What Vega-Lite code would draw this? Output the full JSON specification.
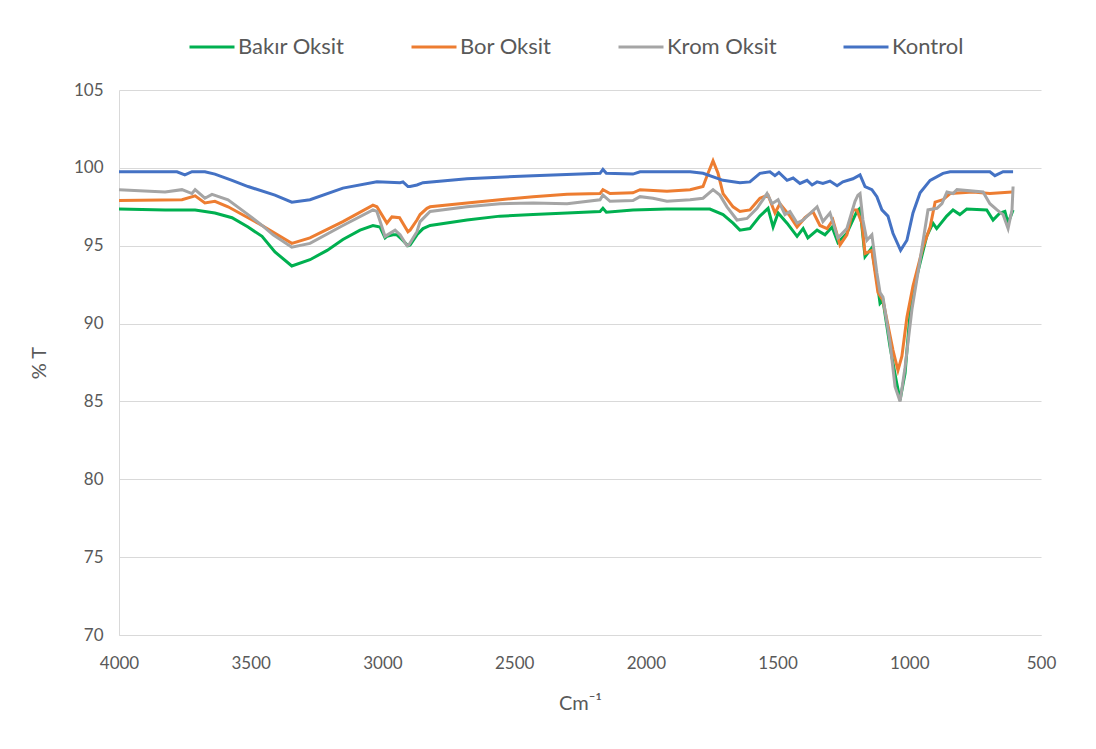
{
  "$schema": "https://vega.github.io/schema/vega-lite/v6.json",
  "width": 922,
  "height": 545,
  "autosize": {"type": "none"},
  "padding": {"left": 119, "top": 90, "right": 55, "bottom": 114},
  "background": "#ffffff",
  "datasets": {
    "spectra": [
      {"series": "Bakır Oksit", "wavenumber": 4000, "T": 97.35},
      {"series": "Bakır Oksit", "wavenumber": 3825, "T": 97.3},
      {"series": "Bakır Oksit", "wavenumber": 3711, "T": 97.3},
      {"series": "Bakır Oksit", "wavenumber": 3636, "T": 97.1},
      {"series": "Bakır Oksit", "wavenumber": 3571, "T": 96.8},
      {"series": "Bakır Oksit", "wavenumber": 3510, "T": 96.2},
      {"series": "Bakır Oksit", "wavenumber": 3457, "T": 95.6},
      {"series": "Bakır Oksit", "wavenumber": 3408, "T": 94.6},
      {"series": "Bakır Oksit", "wavenumber": 3344, "T": 93.7},
      {"series": "Bakır Oksit", "wavenumber": 3275, "T": 94.1},
      {"series": "Bakır Oksit", "wavenumber": 3210, "T": 94.7},
      {"series": "Bakır Oksit", "wavenumber": 3150, "T": 95.4},
      {"series": "Bakır Oksit", "wavenumber": 3085, "T": 96.0},
      {"series": "Bakır Oksit", "wavenumber": 3036, "T": 96.3},
      {"series": "Bakır Oksit", "wavenumber": 3009, "T": 96.2},
      {"series": "Bakır Oksit", "wavenumber": 2990, "T": 95.5},
      {"series": "Bakır Oksit", "wavenumber": 2983, "T": 95.6},
      {"series": "Bakır Oksit", "wavenumber": 2960, "T": 95.7},
      {"series": "Bakır Oksit", "wavenumber": 2945, "T": 95.7},
      {"series": "Bakır Oksit", "wavenumber": 2926, "T": 95.4},
      {"series": "Bakır Oksit", "wavenumber": 2903, "T": 95.0},
      {"series": "Bakır Oksit", "wavenumber": 2895, "T": 95.05},
      {"series": "Bakır Oksit", "wavenumber": 2869, "T": 95.7},
      {"series": "Bakır Oksit", "wavenumber": 2846, "T": 96.1},
      {"series": "Bakır Oksit", "wavenumber": 2819, "T": 96.3},
      {"series": "Bakır Oksit", "wavenumber": 2679, "T": 96.65},
      {"series": "Bakır Oksit", "wavenumber": 2554, "T": 96.9},
      {"series": "Bakır Oksit", "wavenumber": 2428, "T": 97.0},
      {"series": "Bakır Oksit", "wavenumber": 2299, "T": 97.1},
      {"series": "Bakır Oksit", "wavenumber": 2174, "T": 97.2},
      {"series": "Bakır Oksit", "wavenumber": 2163, "T": 97.4},
      {"series": "Bakır Oksit", "wavenumber": 2150, "T": 97.15},
      {"series": "Bakır Oksit", "wavenumber": 2049, "T": 97.3},
      {"series": "Bakır Oksit", "wavenumber": 1920, "T": 97.35},
      {"series": "Bakır Oksit", "wavenumber": 1832, "T": 97.35},
      {"series": "Bakır Oksit", "wavenumber": 1757, "T": 97.35},
      {"series": "Bakır Oksit", "wavenumber": 1707, "T": 97.0},
      {"series": "Bakır Oksit", "wavenumber": 1669, "T": 96.45},
      {"series": "Bakır Oksit", "wavenumber": 1643, "T": 96.0},
      {"series": "Bakır Oksit", "wavenumber": 1605, "T": 96.1},
      {"series": "Bakır Oksit", "wavenumber": 1567, "T": 96.9},
      {"series": "Bakır Oksit", "wavenumber": 1536, "T": 97.4},
      {"series": "Bakır Oksit", "wavenumber": 1517, "T": 96.2},
      {"series": "Bakır Oksit", "wavenumber": 1498, "T": 97.1},
      {"series": "Bakır Oksit", "wavenumber": 1464, "T": 96.45},
      {"series": "Bakır Oksit", "wavenumber": 1426, "T": 95.6},
      {"series": "Bakır Oksit", "wavenumber": 1403, "T": 96.1},
      {"series": "Bakır Oksit", "wavenumber": 1385, "T": 95.5},
      {"series": "Bakır Oksit", "wavenumber": 1350, "T": 96.0},
      {"series": "Bakır Oksit", "wavenumber": 1320, "T": 95.7},
      {"series": "Bakır Oksit", "wavenumber": 1293, "T": 96.2},
      {"series": "Bakır Oksit", "wavenumber": 1271, "T": 95.2},
      {"series": "Bakır Oksit", "wavenumber": 1237, "T": 95.8},
      {"series": "Bakır Oksit", "wavenumber": 1199, "T": 97.2},
      {"series": "Bakır Oksit", "wavenumber": 1187, "T": 97.4},
      {"series": "Bakır Oksit", "wavenumber": 1168, "T": 94.3},
      {"series": "Bakır Oksit", "wavenumber": 1143, "T": 94.85},
      {"series": "Bakır Oksit", "wavenumber": 1123, "T": 92.8},
      {"series": "Bakır Oksit", "wavenumber": 1111, "T": 91.3},
      {"series": "Bakır Oksit", "wavenumber": 1100, "T": 91.5},
      {"series": "Bakır Oksit", "wavenumber": 1073, "T": 88.5},
      {"series": "Bakır Oksit", "wavenumber": 1048, "T": 86.2},
      {"series": "Bakır Oksit", "wavenumber": 1035, "T": 85.1},
      {"series": "Bakır Oksit", "wavenumber": 1016, "T": 86.8},
      {"series": "Bakır Oksit", "wavenumber": 997, "T": 90.7},
      {"series": "Bakır Oksit", "wavenumber": 972, "T": 93.0},
      {"series": "Bakır Oksit", "wavenumber": 934, "T": 95.6},
      {"series": "Bakır Oksit", "wavenumber": 910, "T": 96.45},
      {"series": "Bakır Oksit", "wavenumber": 896, "T": 96.1},
      {"series": "Bakır Oksit", "wavenumber": 858, "T": 96.9},
      {"series": "Bakır Oksit", "wavenumber": 834, "T": 97.3},
      {"series": "Bakır Oksit", "wavenumber": 808, "T": 97.0},
      {"series": "Bakır Oksit", "wavenumber": 782, "T": 97.35},
      {"series": "Bakır Oksit", "wavenumber": 706, "T": 97.3},
      {"series": "Bakır Oksit", "wavenumber": 682, "T": 96.65},
      {"series": "Bakır Oksit", "wavenumber": 656, "T": 97.1},
      {"series": "Bakır Oksit", "wavenumber": 637, "T": 97.2},
      {"series": "Bakır Oksit", "wavenumber": 625, "T": 96.45},
      {"series": "Bakır Oksit", "wavenumber": 606, "T": 97.3},

      {"series": "Bor Oksit", "wavenumber": 4000, "T": 97.9},
      {"series": "Bor Oksit", "wavenumber": 3761, "T": 97.95},
      {"series": "Bor Oksit", "wavenumber": 3711, "T": 98.2},
      {"series": "Bor Oksit", "wavenumber": 3674, "T": 97.75},
      {"series": "Bor Oksit", "wavenumber": 3636, "T": 97.85},
      {"series": "Bor Oksit", "wavenumber": 3586, "T": 97.5},
      {"series": "Bor Oksit", "wavenumber": 3510, "T": 96.8},
      {"series": "Bor Oksit", "wavenumber": 3457, "T": 96.3},
      {"series": "Bor Oksit", "wavenumber": 3344, "T": 95.15},
      {"series": "Bor Oksit", "wavenumber": 3275, "T": 95.5},
      {"series": "Bor Oksit", "wavenumber": 3150, "T": 96.55},
      {"series": "Bor Oksit", "wavenumber": 3036, "T": 97.6},
      {"series": "Bor Oksit", "wavenumber": 3021, "T": 97.5},
      {"series": "Bor Oksit", "wavenumber": 2983, "T": 96.45},
      {"series": "Bor Oksit", "wavenumber": 2964, "T": 96.85},
      {"series": "Bor Oksit", "wavenumber": 2935, "T": 96.8},
      {"series": "Bor Oksit", "wavenumber": 2903, "T": 95.9},
      {"series": "Bor Oksit", "wavenumber": 2895, "T": 96.0},
      {"series": "Bor Oksit", "wavenumber": 2869, "T": 96.65},
      {"series": "Bor Oksit", "wavenumber": 2857, "T": 97.0},
      {"series": "Bor Oksit", "wavenumber": 2831, "T": 97.4},
      {"series": "Bor Oksit", "wavenumber": 2819, "T": 97.5},
      {"series": "Bor Oksit", "wavenumber": 2679, "T": 97.75},
      {"series": "Bor Oksit", "wavenumber": 2554, "T": 97.95},
      {"series": "Bor Oksit", "wavenumber": 2428, "T": 98.15},
      {"series": "Bor Oksit", "wavenumber": 2299, "T": 98.3},
      {"series": "Bor Oksit", "wavenumber": 2174, "T": 98.35},
      {"series": "Bor Oksit", "wavenumber": 2163, "T": 98.6},
      {"series": "Bor Oksit", "wavenumber": 2136, "T": 98.35},
      {"series": "Bor Oksit", "wavenumber": 2049, "T": 98.4},
      {"series": "Bor Oksit", "wavenumber": 2022, "T": 98.6},
      {"series": "Bor Oksit", "wavenumber": 1920, "T": 98.5},
      {"series": "Bor Oksit", "wavenumber": 1832, "T": 98.6},
      {"series": "Bor Oksit", "wavenumber": 1783, "T": 98.8},
      {"series": "Bor Oksit", "wavenumber": 1764, "T": 99.65},
      {"series": "Bor Oksit", "wavenumber": 1745, "T": 100.45},
      {"series": "Bor Oksit", "wavenumber": 1726, "T": 99.65},
      {"series": "Bor Oksit", "wavenumber": 1707, "T": 98.35},
      {"series": "Bor Oksit", "wavenumber": 1669, "T": 97.5},
      {"series": "Bor Oksit", "wavenumber": 1643, "T": 97.2},
      {"series": "Bor Oksit", "wavenumber": 1605, "T": 97.3},
      {"series": "Bor Oksit", "wavenumber": 1567, "T": 98.05},
      {"series": "Bor Oksit", "wavenumber": 1536, "T": 98.25},
      {"series": "Bor Oksit", "wavenumber": 1510, "T": 97.1},
      {"series": "Bor Oksit", "wavenumber": 1491, "T": 97.7},
      {"series": "Bor Oksit", "wavenumber": 1453, "T": 96.9},
      {"series": "Bor Oksit", "wavenumber": 1426, "T": 96.2},
      {"series": "Bor Oksit", "wavenumber": 1396, "T": 96.8},
      {"series": "Bor Oksit", "wavenumber": 1366, "T": 97.2},
      {"series": "Bor Oksit", "wavenumber": 1339, "T": 96.3},
      {"series": "Bor Oksit", "wavenumber": 1312, "T": 96.1},
      {"series": "Bor Oksit", "wavenumber": 1290, "T": 96.65},
      {"series": "Bor Oksit", "wavenumber": 1263, "T": 95.05},
      {"series": "Bor Oksit", "wavenumber": 1237, "T": 95.7},
      {"series": "Bor Oksit", "wavenumber": 1214, "T": 97.3},
      {"series": "Bor Oksit", "wavenumber": 1199, "T": 97.3},
      {"series": "Bor Oksit", "wavenumber": 1180, "T": 96.45},
      {"series": "Bor Oksit", "wavenumber": 1168, "T": 94.5},
      {"series": "Bor Oksit", "wavenumber": 1142, "T": 94.7},
      {"series": "Bor Oksit", "wavenumber": 1119, "T": 92.0},
      {"series": "Bor Oksit", "wavenumber": 1100, "T": 91.5},
      {"series": "Bor Oksit", "wavenumber": 1062, "T": 88.3},
      {"series": "Bor Oksit", "wavenumber": 1043, "T": 87.0},
      {"series": "Bor Oksit", "wavenumber": 1028, "T": 87.9},
      {"series": "Bor Oksit", "wavenumber": 1009, "T": 90.4},
      {"series": "Bor Oksit", "wavenumber": 986, "T": 92.4},
      {"series": "Bor Oksit", "wavenumber": 948, "T": 94.9},
      {"series": "Bor Oksit", "wavenumber": 921, "T": 96.2},
      {"series": "Bor Oksit", "wavenumber": 902, "T": 97.8},
      {"series": "Bor Oksit", "wavenumber": 872, "T": 97.95},
      {"series": "Bor Oksit", "wavenumber": 845, "T": 98.35},
      {"series": "Bor Oksit", "wavenumber": 758, "T": 98.45},
      {"series": "Bor Oksit", "wavenumber": 694, "T": 98.35},
      {"series": "Bor Oksit", "wavenumber": 610, "T": 98.45},

      {"series": "Krom Oksit", "wavenumber": 4000, "T": 98.6},
      {"series": "Krom Oksit", "wavenumber": 3825, "T": 98.45},
      {"series": "Krom Oksit", "wavenumber": 3761, "T": 98.6},
      {"series": "Krom Oksit", "wavenumber": 3723, "T": 98.35},
      {"series": "Krom Oksit", "wavenumber": 3711, "T": 98.6},
      {"series": "Krom Oksit", "wavenumber": 3674, "T": 98.05},
      {"series": "Krom Oksit", "wavenumber": 3647, "T": 98.3},
      {"series": "Krom Oksit", "wavenumber": 3586, "T": 97.95},
      {"series": "Krom Oksit", "wavenumber": 3510, "T": 97.0},
      {"series": "Krom Oksit", "wavenumber": 3457, "T": 96.3},
      {"series": "Krom Oksit", "wavenumber": 3415, "T": 95.7},
      {"series": "Krom Oksit", "wavenumber": 3344, "T": 94.9},
      {"series": "Krom Oksit", "wavenumber": 3275, "T": 95.15},
      {"series": "Krom Oksit", "wavenumber": 3150, "T": 96.3},
      {"series": "Krom Oksit", "wavenumber": 3036, "T": 97.3},
      {"series": "Krom Oksit", "wavenumber": 3021, "T": 97.2},
      {"series": "Krom Oksit", "wavenumber": 2990, "T": 95.6},
      {"series": "Krom Oksit", "wavenumber": 2952, "T": 96.0},
      {"series": "Krom Oksit", "wavenumber": 2933, "T": 95.7},
      {"series": "Krom Oksit", "wavenumber": 2907, "T": 95.0},
      {"series": "Krom Oksit", "wavenumber": 2900, "T": 95.05},
      {"series": "Krom Oksit", "wavenumber": 2869, "T": 95.9},
      {"series": "Krom Oksit", "wavenumber": 2857, "T": 96.55},
      {"series": "Krom Oksit", "wavenumber": 2831, "T": 97.0},
      {"series": "Krom Oksit", "wavenumber": 2819, "T": 97.2},
      {"series": "Krom Oksit", "wavenumber": 2679, "T": 97.5},
      {"series": "Krom Oksit", "wavenumber": 2554, "T": 97.7},
      {"series": "Krom Oksit", "wavenumber": 2428, "T": 97.75},
      {"series": "Krom Oksit", "wavenumber": 2299, "T": 97.7},
      {"series": "Krom Oksit", "wavenumber": 2174, "T": 97.95},
      {"series": "Krom Oksit", "wavenumber": 2163, "T": 98.25},
      {"series": "Krom Oksit", "wavenumber": 2136, "T": 97.85},
      {"series": "Krom Oksit", "wavenumber": 2049, "T": 97.9},
      {"series": "Krom Oksit", "wavenumber": 2022, "T": 98.15},
      {"series": "Krom Oksit", "wavenumber": 1973, "T": 98.05},
      {"series": "Krom Oksit", "wavenumber": 1920, "T": 97.85},
      {"series": "Krom Oksit", "wavenumber": 1832, "T": 97.95},
      {"series": "Krom Oksit", "wavenumber": 1783, "T": 98.05},
      {"series": "Krom Oksit", "wavenumber": 1745, "T": 98.6},
      {"series": "Krom Oksit", "wavenumber": 1719, "T": 98.25},
      {"series": "Krom Oksit", "wavenumber": 1692, "T": 97.5},
      {"series": "Krom Oksit", "wavenumber": 1654, "T": 96.65},
      {"series": "Krom Oksit", "wavenumber": 1616, "T": 96.75},
      {"series": "Krom Oksit", "wavenumber": 1578, "T": 97.4},
      {"series": "Krom Oksit", "wavenumber": 1540, "T": 98.35},
      {"series": "Krom Oksit", "wavenumber": 1521, "T": 97.7},
      {"series": "Krom Oksit", "wavenumber": 1498, "T": 97.95},
      {"series": "Krom Oksit", "wavenumber": 1472, "T": 97.0},
      {"series": "Krom Oksit", "wavenumber": 1453, "T": 97.2},
      {"series": "Krom Oksit", "wavenumber": 1426, "T": 96.45},
      {"series": "Krom Oksit", "wavenumber": 1403, "T": 96.65},
      {"series": "Krom Oksit", "wavenumber": 1350, "T": 97.5},
      {"series": "Krom Oksit", "wavenumber": 1328, "T": 96.55},
      {"series": "Krom Oksit", "wavenumber": 1301, "T": 97.1},
      {"series": "Krom Oksit", "wavenumber": 1271, "T": 95.5},
      {"series": "Krom Oksit", "wavenumber": 1237, "T": 96.1},
      {"series": "Krom Oksit", "wavenumber": 1206, "T": 97.85},
      {"series": "Krom Oksit", "wavenumber": 1195, "T": 98.25},
      {"series": "Krom Oksit", "wavenumber": 1187, "T": 98.35},
      {"series": "Krom Oksit", "wavenumber": 1176, "T": 96.65},
      {"series": "Krom Oksit", "wavenumber": 1161, "T": 95.35},
      {"series": "Krom Oksit", "wavenumber": 1142, "T": 95.7},
      {"series": "Krom Oksit", "wavenumber": 1123, "T": 93.25},
      {"series": "Krom Oksit", "wavenumber": 1111, "T": 92.0},
      {"series": "Krom Oksit", "wavenumber": 1100, "T": 91.7},
      {"series": "Krom Oksit", "wavenumber": 1073, "T": 88.75},
      {"series": "Krom Oksit", "wavenumber": 1054, "T": 85.95},
      {"series": "Krom Oksit", "wavenumber": 1035, "T": 85.0},
      {"series": "Krom Oksit", "wavenumber": 1016, "T": 87.2},
      {"series": "Krom Oksit", "wavenumber": 990, "T": 90.9},
      {"series": "Krom Oksit", "wavenumber": 959, "T": 94.1},
      {"series": "Krom Oksit", "wavenumber": 929, "T": 97.3},
      {"series": "Krom Oksit", "wavenumber": 895, "T": 97.4},
      {"series": "Krom Oksit", "wavenumber": 876, "T": 97.7},
      {"series": "Krom Oksit", "wavenumber": 857, "T": 98.45},
      {"series": "Krom Oksit", "wavenumber": 834, "T": 98.35},
      {"series": "Krom Oksit", "wavenumber": 819, "T": 98.6},
      {"series": "Krom Oksit", "wavenumber": 720, "T": 98.45},
      {"series": "Krom Oksit", "wavenumber": 694, "T": 97.7},
      {"series": "Krom Oksit", "wavenumber": 667, "T": 97.3},
      {"series": "Krom Oksit", "wavenumber": 644, "T": 97.0},
      {"series": "Krom Oksit", "wavenumber": 625, "T": 96.1},
      {"series": "Krom Oksit", "wavenumber": 610, "T": 97.3},
      {"series": "Krom Oksit", "wavenumber": 606, "T": 98.8},

      {"series": "Kontrol", "wavenumber": 4000, "T": 99.75},
      {"series": "Kontrol", "wavenumber": 3780, "T": 99.75},
      {"series": "Kontrol", "wavenumber": 3750, "T": 99.55},
      {"series": "Kontrol", "wavenumber": 3723, "T": 99.75},
      {"series": "Kontrol", "wavenumber": 3674, "T": 99.75},
      {"series": "Kontrol", "wavenumber": 3636, "T": 99.6},
      {"series": "Kontrol", "wavenumber": 3571, "T": 99.2},
      {"series": "Kontrol", "wavenumber": 3510, "T": 98.8},
      {"series": "Kontrol", "wavenumber": 3408, "T": 98.25},
      {"series": "Kontrol", "wavenumber": 3344, "T": 97.8},
      {"series": "Kontrol", "wavenumber": 3275, "T": 97.95},
      {"series": "Kontrol", "wavenumber": 3150, "T": 98.7},
      {"series": "Kontrol", "wavenumber": 3021, "T": 99.1},
      {"series": "Kontrol", "wavenumber": 2933, "T": 99.05},
      {"series": "Kontrol", "wavenumber": 2922, "T": 99.1},
      {"series": "Kontrol", "wavenumber": 2903, "T": 98.8},
      {"series": "Kontrol", "wavenumber": 2895, "T": 98.8},
      {"series": "Kontrol", "wavenumber": 2869, "T": 98.9},
      {"series": "Kontrol", "wavenumber": 2846, "T": 99.05},
      {"series": "Kontrol", "wavenumber": 2679, "T": 99.3},
      {"series": "Kontrol", "wavenumber": 2428, "T": 99.5},
      {"series": "Kontrol", "wavenumber": 2174, "T": 99.65},
      {"series": "Kontrol", "wavenumber": 2163, "T": 99.9},
      {"series": "Kontrol", "wavenumber": 2150, "T": 99.65},
      {"series": "Kontrol", "wavenumber": 2049, "T": 99.6},
      {"series": "Kontrol", "wavenumber": 2022, "T": 99.75},
      {"series": "Kontrol", "wavenumber": 1920, "T": 99.75},
      {"series": "Kontrol", "wavenumber": 1832, "T": 99.75},
      {"series": "Kontrol", "wavenumber": 1783, "T": 99.65},
      {"series": "Kontrol", "wavenumber": 1707, "T": 99.2},
      {"series": "Kontrol", "wavenumber": 1643, "T": 99.05},
      {"series": "Kontrol", "wavenumber": 1605, "T": 99.1},
      {"series": "Kontrol", "wavenumber": 1567, "T": 99.65},
      {"series": "Kontrol", "wavenumber": 1529, "T": 99.75},
      {"series": "Kontrol", "wavenumber": 1510, "T": 99.5},
      {"series": "Kontrol", "wavenumber": 1495, "T": 99.7},
      {"series": "Kontrol", "wavenumber": 1464, "T": 99.2},
      {"series": "Kontrol", "wavenumber": 1441, "T": 99.35},
      {"series": "Kontrol", "wavenumber": 1415, "T": 99.0},
      {"series": "Kontrol", "wavenumber": 1388, "T": 99.2},
      {"series": "Kontrol", "wavenumber": 1369, "T": 98.9},
      {"series": "Kontrol", "wavenumber": 1350, "T": 99.1},
      {"series": "Kontrol", "wavenumber": 1328, "T": 99.0},
      {"series": "Kontrol", "wavenumber": 1301, "T": 99.15},
      {"series": "Kontrol", "wavenumber": 1274, "T": 98.85},
      {"series": "Kontrol", "wavenumber": 1252, "T": 99.1},
      {"series": "Kontrol", "wavenumber": 1214, "T": 99.3},
      {"series": "Kontrol", "wavenumber": 1187, "T": 99.55},
      {"series": "Kontrol", "wavenumber": 1168, "T": 98.8},
      {"series": "Kontrol", "wavenumber": 1142, "T": 98.6},
      {"series": "Kontrol", "wavenumber": 1123, "T": 98.15},
      {"series": "Kontrol", "wavenumber": 1104, "T": 97.3},
      {"series": "Kontrol", "wavenumber": 1081, "T": 96.9},
      {"series": "Kontrol", "wavenumber": 1062, "T": 95.8},
      {"series": "Kontrol", "wavenumber": 1033, "T": 94.7},
      {"series": "Kontrol", "wavenumber": 1009, "T": 95.35},
      {"series": "Kontrol", "wavenumber": 986, "T": 97.1},
      {"series": "Kontrol", "wavenumber": 959, "T": 98.4},
      {"series": "Kontrol", "wavenumber": 921, "T": 99.2},
      {"series": "Kontrol", "wavenumber": 872, "T": 99.65},
      {"series": "Kontrol", "wavenumber": 845, "T": 99.75},
      {"series": "Kontrol", "wavenumber": 694, "T": 99.75},
      {"series": "Kontrol", "wavenumber": 675, "T": 99.5},
      {"series": "Kontrol", "wavenumber": 644, "T": 99.75},
      {"series": "Kontrol", "wavenumber": 606, "T": 99.75}
    ]
  },
  "data": {"name": "spectra"},
  "mark": {"type": "line", "strokeWidth": 3, "interpolate": "linear"},
  "encoding": {
    "x": {
      "field": "wavenumber",
      "type": "quantitative",
      "scale": {"domain": [500, 4000], "reverse": true, "nice": false, "zero": false},
      "axis": {
        "title": "Cm⁻¹",
        "values": [4000, 3500, 3000, 2500, 2000, 1500, 1000, 500],
        "format": "d",
        "grid": false,
        "ticks": false,
        "labelFlush": false,
        "domainColor": "#d9d9d9",
        "domainWidth": 1,
        "labelPadding": 20,
        "titlePadding": 22
      }
    },
    "y": {
      "field": "T",
      "type": "quantitative",
      "scale": {"domain": [70, 105], "nice": false, "zero": false},
      "axis": {
        "title": "% T",
        "values": [70, 75, 80, 85, 90, 95, 100, 105],
        "grid": true,
        "gridColor": "#d9d9d9",
        "gridWidth": 1,
        "ticks": false,
        "labelFlush": false,
        "domainColor": "#d9d9d9",
        "domainWidth": 1,
        "labelPadding": 16,
        "titlePadding": 24
      }
    },
    "color": {
      "field": "series",
      "type": "nominal",
      "scale": {
        "domain": ["Bakır Oksit", "Bor Oksit", "Krom Oksit", "Kontrol"],
        "range": ["#00B050", "#ED7D31", "#A5A5A5", "#4472C4"]
      },
      "legend": {
        "title": null,
        "orient": "none",
        "direction": "horizontal",
        "legendX": 69,
        "legendY": -67,
        "symbolType": "stroke",
        "symbolSize": 2025,
        "symbolStrokeWidth": 3,
        "labelOffset": 2,
        "columnPadding": 60
      }
    },
    "order": {"field": "wavenumber", "type": "quantitative"}
  },
  "config": {
    "font": "Lato",
    "view": {"stroke": null},
    "axis": {
      "labelFont": "Lato",
      "labelFontSize": 17,
      "labelColor": "#595959",
      "titleFont": "Lato",
      "titleFontSize": 20,
      "titleFontWeight": "normal",
      "titleColor": "#595959"
    },
    "legend": {
      "labelFont": "Lato",
      "labelFontSize": 22,
      "labelColor": "#595959",
      "labelLimit": 300
    }
  }
}
